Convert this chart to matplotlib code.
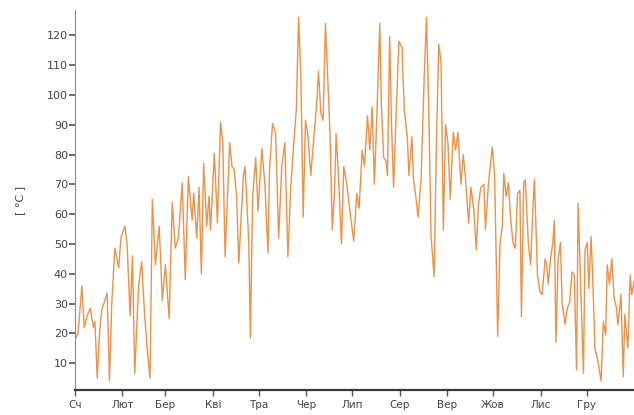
import matplotlib
matplotlib.use("Agg")
import matplotlib.pyplot as plt

# jour de l'année et température
jours = [
	0, 2, 4.5, 6, 8, 10, 12, 13, 14.5, 16, 17.5, 19.5, 21, 22.5, 24, 26, 28.5, 30,
	32.5, 34, 36, 37.5, 39, 41.5, 43.5, 45.5, 47.5, 49, 50.5, 52.5, 55, 57, 59,
	61.5, 63.5, 65.5, 67.5, 70, 72, 74, 76.5, 77.5, 79.5, 81, 82.5, 84, 86, 87.5,
	88.5, 91, 93, 95, 96.5, 98, 101, 102.5, 104, 105.5, 107, 108.5, 110, 111,
	112.5, 113.5, 114.5, 116, 118, 119.5, 122, 124, 126, 127, 129, 131, 133, 135,
	137, 139, 141, 143, 144.5, 146, 147.5, 149, 150.5, 152, 154, 156, 157.5, 159,
	160.5, 162, 163.5, 165, 166.5, 168, 169.5, 170.5, 172, 174, 175.5, 177.5, 180,
	182, 184, 185.5, 187.5, 189, 191, 192.5, 194, 195.5, 197, 199, 200, 201.5, 203,
	204, 205.5, 206.5, 208, 210, 211.5, 213.5, 215, 217, 218, 220, 221, 222.5, 224,
	226, 228, 229.5, 231, 232.5, 234.5, 236, 237.5, 239, 240.5, 242, 243.5, 245,
	247, 248.5, 250, 252, 253.5, 255, 257, 258.5, 260.5, 262, 263.5, 265, 267, 268,
	270, 272.5, 274, 276, 277.5, 279, 280, 281.5, 283, 284.5, 286, 287.5, 289,
	290.5, 291.5, 293, 294, 296, 297.5, 299, 300, 302, 303.5, 305, 307, 308, 309,
	310.5, 312, 313, 314, 315.5, 317, 318, 320, 321.5, 323, 324.5, 326, 327.5,
	328.5, 330, 332, 333, 334.5, 335.5, 337, 338, 339.5, 341.5, 343.5, 345, 346.5,
	347.5, 349, 350.5, 352, 353.5, 354.5, 356.5, 358, 359, 361, 362.5, 363.5, 365
]
temperatures = [
	18, 20, 36, 22, 26, 28.5, 22, 24, 5, 20, 28, 31, 33.5, 4, 30, 48.6, 42, 52,
	56, 50, 26, 46, 6.5, 36, 44, 26, 12.6, 5, 65, 43, 56, 31, 43,
	25, 64, 48.6, 52, 70.5, 38, 72.6, 58, 67, 52, 69, 40, 77, 56, 66,
	54.7, 80.5, 57, 91, 84, 45.7, 84, 76, 75, 66, 43.6, 59, 73, 76,
	61, 50, 18.5, 66, 79, 61, 82, 70, 47, 75, 90.5, 87, 52, 76,
	84, 45.7, 70, 85, 95, 126, 106, 59, 91.5, 87, 73, 86, 95, 108,
	94, 91.5, 124, 106, 87, 54.7, 68, 87, 73, 50, 76, 70, 59,
	51, 67, 62, 81.5, 76, 93, 81.5, 96, 70, 91.5, 124, 98, 79, 78,
	73, 119.6, 93, 69, 98, 118, 116, 95, 86, 73, 86, 72, 66, 59,
	72, 106, 126, 95, 52.5, 39, 84, 117, 111, 54.7, 90, 84, 65,
	87.5, 81.5, 87.5, 70, 80, 72, 57, 69, 61, 48, 63.5, 69, 70, 55,
	70.5, 82.6, 73, 19, 50, 56, 73.7, 66, 70.5, 58, 50.5, 48.5, 67,
	68, 25.6, 70.5, 71.5, 50.5, 43, 62, 71.5, 39.5, 34, 33, 45, 43, 36.5,
	45, 50.5, 58, 17, 45, 50.5, 30.5, 23, 28.5, 30.5, 40.6, 39.5, 7.7,
	63.6, 39.5, 6.6, 48, 50.5, 35, 52.5, 39.5, 15, 10.6, 4, 24, 19.5,
	43, 36.5, 45, 32, 28.5, 23, 33, 5.5, 26.4, 15, 39.5, 33, 37.5
]

mois = ["Сч", "Лют", "Бер", "Кві", "Тра", "Чер", "Лип", "Сер", "Вер", "Жов", "Лис", "Гру"]
debutMois = [0, 31, 59, 90, 120, 151, 181, 212, 243, 273, 304, 334]
graduations = [10, 20, 30, 40, 50, 60, 70, 80, 90, 100, 110, 120]

fig = plt.figure(figsize=(6.34, 4.15), dpi=100)
ax = fig.add_axes([75 / 634, 25 / 415, 559 / 634, 380 / 415])

ax.plot(jours, temperatures, color="#EC9148", linewidth=1.0)

ax.set_xlim(0, 365)
ax.set_ylim(1, 128.5)
ax.set_xticks(debutMois)
ax.set_xticklabels(mois)
ax.set_yticks(graduations)

ax.spines["top"].set_visible(False)
ax.spines["right"].set_visible(False)
ax.spines["left"].set_color("#8a8a8a")
ax.spines["left"].set_linewidth(0.8)
ax.spines["bottom"].set_color("#3a3a3a")
ax.spines["bottom"].set_linewidth(1.6)

ax.tick_params(axis="y", direction="out", length=4, width=1.2, color="#555555",
	labelsize=8, labelcolor="#444444", pad=1)
ax.tick_params(axis="x", direction="out", length=4, width=1.0, color="#555555",
	labelsize=7.5, labelcolor="#444444", pad=3)

fig.text(20 / 634, 1 - 200 / 415, "[ °C ]", rotation=90, ha="center", va="center",
	fontsize=8, color="#444444")

fig.savefig("out.png", dpi=100)
